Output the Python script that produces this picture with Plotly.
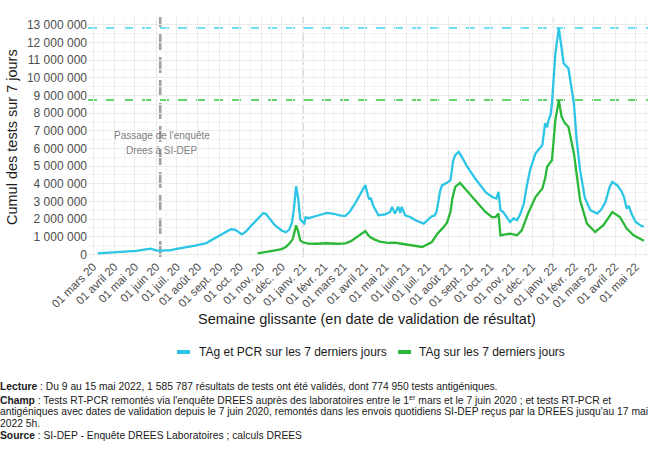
import plotly.graph_objects as go
import pandas as pd

# ---------------- data ----------------
tot_dates = ["2020-03-08","2020-03-22","2020-04-05","2020-04-19","2020-05-03","2020-05-17","2020-05-24","2020-06-01",
 "2020-06-07","2020-06-14","2020-06-21","2020-07-03","2020-07-15","2020-07-28","2020-08-13","2020-08-22","2020-08-30",
 "2020-09-10","2020-09-18","2020-09-24","2020-10-04","2020-10-10","2020-10-17","2020-10-27","2020-11-04","2020-11-08",
 "2020-11-13","2020-11-21","2020-12-01","2020-12-07","2020-12-12","2020-12-16","2020-12-19","2020-12-22","2020-12-25",
 "2020-12-28","2020-12-31","2021-01-03","2021-01-05","2021-01-09","2021-01-19","2021-01-26","2021-02-05","2021-02-15",
 "2021-02-25","2021-03-04","2021-03-10","2021-03-18","2021-03-26","2021-04-02","2021-04-06","2021-04-08","2021-04-10",
 "2021-04-13","2021-04-21","2021-05-01","2021-05-08","2021-05-11","2021-05-15","2021-05-18","2021-05-20","2021-05-23",
 "2021-05-25","2021-05-30","2021-06-07","2021-06-14","2021-06-26","2021-07-08","2021-07-12","2021-07-15","2021-07-20",
 "2021-07-23","2021-07-30","2021-08-04","2021-08-08","2021-08-11","2021-08-16","2021-08-21","2021-08-28","2021-09-09",
 "2021-09-17","2021-09-25","2021-10-04","2021-10-10","2021-10-13","2021-10-16","2021-10-20","2021-10-25","2021-10-30",
 "2021-11-04","2021-11-09","2021-11-14","2021-11-19","2021-11-23","2021-11-28","2021-12-06","2021-12-16","2021-12-20",
 "2021-12-23","2021-12-25","2021-12-28","2021-12-30","2022-01-02","2022-01-04","2022-01-09","2022-01-13","2022-01-16",
 "2022-01-23","2022-01-31","2022-02-04","2022-02-09","2022-02-16","2022-02-24","2022-03-06","2022-03-12","2022-03-18",
 "2022-03-24","2022-03-28","2022-04-04","2022-04-10","2022-04-14","2022-04-18","2022-04-21","2022-04-25","2022-05-01",
 "2022-05-06","2022-05-10","2022-05-13"]
tot_vals = [0.05,0.08,0.12,0.16,0.20,0.28,0.32,0.22,
 0.20,0.22,0.23,0.32,0.40,0.50,0.64,0.85,1.02,
 1.25,1.42,1.40,1.13,1.30,1.60,2.00,2.33,2.30,
 2.05,1.65,1.35,1.25,1.40,1.80,2.60,3.86,3.20,
 2.00,1.85,1.75,2.10,2.05,2.16,2.25,2.35,2.30,
 2.20,2.18,2.40,2.88,3.40,3.92,3.30,3.10,3.20,
 2.80,2.21,2.27,2.40,2.69,2.31,2.55,2.69,2.35,
 2.69,2.21,2.10,1.93,1.74,2.16,2.20,2.45,3.60,
 3.92,4.05,4.20,5.30,5.62,5.81,5.50,5.00,4.30,
 3.92,3.50,3.25,3.16,3.54,2.50,2.40,2.10,1.83,
 2.03,1.93,2.30,2.88,3.80,4.77,5.72,6.19,7.42,
 7.20,7.61,7.90,8.55,10.0,11.39,12.83,11.50,10.83,
 10.54,8.55,6.50,4.77,3.20,2.50,2.31,2.55,2.97,
 3.80,4.10,3.92,3.60,3.25,2.59,2.75,2.30,1.83,
 1.70,1.60,1.59]

tag_dates = ["2020-10-27","2020-11-05","2020-11-15","2020-11-22","2020-12-01","2020-12-07","2020-12-12","2020-12-17",
 "2020-12-20","2020-12-22","2020-12-25","2020-12-28","2020-12-31","2021-01-09","2021-01-20","2021-02-05","2021-02-20",
 "2021-03-04","2021-03-12","2021-03-20","2021-04-02","2021-04-06","2021-04-09","2021-04-15","2021-04-23","2021-05-05",
 "2021-05-15","2021-05-25","2021-06-10","2021-06-24","2021-07-08","2021-07-16","2021-07-24","2021-07-30","2021-08-04",
 "2021-08-07","2021-08-11","2021-08-18","2021-08-28","2021-09-09","2021-09-24","2021-10-04","2021-10-09","2021-10-13",
 "2021-10-16","2021-10-25","2021-10-30","2021-11-09","2021-11-16","2021-11-25","2021-12-06","2021-12-16","2021-12-20",
 "2021-12-23","2021-12-30","2022-01-04","2022-01-09","2022-01-13","2022-01-18","2022-01-23","2022-01-31","2022-02-09",
 "2022-02-19","2022-03-03","2022-03-15","2022-03-28","2022-04-08","2022-04-18","2022-04-28","2022-05-13"]
tag_vals = [0.05,0.10,0.18,0.23,0.30,0.42,0.60,0.85,
 1.30,1.65,1.30,0.80,0.70,0.61,0.60,0.63,0.60,
 0.62,0.75,0.95,1.32,1.10,0.98,0.85,0.72,0.65,
 0.66,0.60,0.50,0.42,0.70,1.17,1.50,1.80,2.40,
 3.20,3.82,4.05,3.60,3.07,2.40,2.10,2.12,2.31,
 1.08,1.15,1.17,1.08,1.36,2.30,3.25,3.73,4.30,
 4.96,5.34,7.61,8.74,7.80,7.42,7.23,5.72,3.07,
 1.74,1.27,1.65,2.40,2.12,1.46,1.08,0.775]

month_ticks = pd.date_range("2020-03-01", "2022-05-01", freq="MS")
month_labels = ["01 mars 20","01 avril 20","01 mai 20","01 juin 20","01 juil. 20","01 août 20","01 sept. 20",
 "01 oct. 20","01 nov. 20","01 déc. 20","01 janv. 21","01 févr. 21","01 mars 21","01 avril 21","01 mai 21",
 "01 juin 21","01 juil. 21","01 août 21","01 sept. 21","01 oct. 21","01 nov. 21","01 déc. 21","01 janv. 22",
 "01 févr. 22","01 mars 22","01 avril 22","01 mai 22"]
y_ticks = [i * 1_000_000 for i in range(14)]
y_labels = ["0","1 000 000","2 000 000","3 000 000","4 000 000","5 000 000","6 000 000","7 000 000",
 "8 000 000","9 000 000","10 000 000","11 000 000","12 000 000","13 000 000"]

name_tot = "TAg et PCR sur les 7 derniers jours"
name_tag = "TAg sur les 7 derniers jours"
switch_date = "2020-06-07"
year_marks = ["2021-01-01", "2022-01-01"]

# ---------------- figure ----------------
BLUE = "#2CC5E5"
BLUE_D = "#40D6F3"
GREEN = "#2BB838"
GREEN_D = "#33C73A"

tot_y = [v * 1e6 for v in tot_vals]
tag_y = [v * 1e6 for v in tag_vals]

fig = go.Figure()
fig.add_trace(go.Scatter(x=tot_dates, y=tot_y, mode="lines", name=name_tot,
                         line=dict(color=BLUE, width=2.3), showlegend=False))
fig.add_trace(go.Scatter(x=tag_dates, y=tag_y, mode="lines", name=name_tag,
                         line=dict(color=GREEN, width=2.3), showlegend=False))

# geometry
L, R, T, B = 88, 4, 17, 199
W = 652 - L - R
H = 456 - T - B
def px(xp):
    return (xp - L) / W
def py(yp):
    return (456 - B - yp) / H

# reference lines
fig.add_shape(type="line", xref="paper", yref="y", x0=0, x1=1, y0=max(tot_y), y1=max(tot_y),
              line=dict(color=BLUE_D, width=1.5, dash="dash"), layer="below")
fig.add_shape(type="line", xref="paper", yref="y", x0=0, x1=1, y0=max(tag_y), y1=max(tag_y),
              line=dict(color=GREEN_D, width=1.5, dash="dash"), layer="below")
fig.add_shape(type="line", xref="x", yref="paper", x0=switch_date, x1=switch_date, y0=0, y1=1,
              line=dict(color="rgba(130,130,130,0.75)", width=2.6, dash="16px,7px"), layer="below")
for d in year_marks:
    fig.add_shape(type="line", xref="x", yref="paper", x0=d, x1=d, y0=0, y1=1,
                  line=dict(color="#aaaaaa", width=1, dash="dashdot"), layer="below")

# minor x gridlines at midpoints
mt = list(month_ticks)
minor_x = [mt[0] - (mt[1] - mt[0]) / 2] + [mt[i] + (mt[i + 1] - mt[i]) / 2 for i in range(len(mt) - 1)] \
          + [mt[-1] + pd.Timedelta(days=15)]

fig.update_layout(
    width=652, height=456,
    margin=dict(l=L, r=R, t=T, b=B, autoexpand=False),
    paper_bgcolor="white", plot_bgcolor="white",
    font=dict(family="Liberation Sans, Arial, sans-serif", color="#4d4d4d"),
    xaxis=dict(type="date", range=["2020-02-22 17:00", "2022-05-19"],
               tickmode="array", tickvals=month_ticks, ticktext=month_labels, tickangle=-45,
               tickfont=dict(size=11.5, color="#4d4d4d"), showgrid=True, gridcolor="#ebebeb", gridwidth=1,
               zeroline=False, showline=False, ticks="", ticklen=0, automargin=False,
               minor=dict(tickvals=minor_x, showgrid=True, gridcolor="#f4f4f4", gridwidth=1)),
    yaxis=dict(range=[-0.15e6, 13.45e6], tickmode="array", tickvals=y_ticks, ticktext=y_labels,
               tickfont=dict(size=12, color="#4d4d4d"), showgrid=True, gridcolor="#ebebeb", gridwidth=1,
               zeroline=False, showline=False, ticks="", ticklen=0, automargin=False,
               minor=dict(tickvals=[v + 500000 for v in y_ticks], showgrid=True, gridcolor="#f4f4f4", gridwidth=1)),
)

ann = []
# axis titles
ann.append(dict(text="Cumul des tests sur 7 jours", xref="paper", yref="paper", x=px(12), y=0.5,
                textangle=-90, showarrow=False, font=dict(size=14.5, color="#1a1a1a"),
                xanchor="center", yanchor="middle"))
ann.append(dict(text="Semaine glissante (en date de validation de résultat)", xref="paper", yref="paper",
                x=px(367), y=py(319), showarrow=False, font=dict(size=14.5, color="#1a1a1a"),
                xanchor="center", yanchor="middle"))
# annotation text
ann.append(dict(text="Passage de l'enquête", xref="x", yref="paper", x="2020-06-09", y=py(135),
                showarrow=False, font=dict(size=10, color="#808080"), xanchor="center", yanchor="middle"))
ann.append(dict(text="Drees à SI-DEP", xref="x", yref="paper", x="2020-06-09", y=py(150),
                showarrow=False, font=dict(size=10, color="#808080"), xanchor="center", yanchor="middle"))
# legend (manual)
ann.append(dict(text=name_tot, xref="paper", yref="paper", x=px(197), y=py(352), showarrow=False,
                font=dict(size=12, color="#1a1a1a"), xanchor="left", yanchor="middle"))
ann.append(dict(text=name_tag, xref="paper", yref="paper", x=px(417), y=py(352), showarrow=False,
                font=dict(size=12, color="#1a1a1a"), xanchor="left", yanchor="middle"))
fig.add_shape(type="line", xref="paper", yref="paper", x0=px(177), x1=px(190), y0=py(352), y1=py(352),
              line=dict(color=BLUE, width=4))
fig.add_shape(type="line", xref="paper", yref="paper", x0=px(398), x1=px(411), y0=py(352), y1=py(352),
              line=dict(color=GREEN, width=4))
# caption
cap_font = dict(size=10.3, color="#1a1a1a", family="Liberation Sans, Arial, sans-serif")
caption = [
    (386, "<b>Lecture</b> : Du 9 au 15 mai 2022, 1 585 787 résultats de tests ont été validés, dont 774 950 tests antigéniques."),
    (399.5, "<b>Champ</b> : Tests RT-PCR remontés via l'enquête DREES auprès des laboratoires entre le 1<sup>er</sup> mars et le 7 juin 2020 ; et tests RT-PCR et"),
    (411.5, "antigéniques avec dates de validation depuis le 7 juin 2020, remontés dans les envois quotidiens SI-DEP reçus par la DREES jusqu'au 17 mai"),
    (423.5, "2022 5h."),
    (435.5, "<b>Source</b> : SI-DEP - Enquête DREES Laboratoires ; calculs DREES"),
]
for yp, t in caption:
    ann.append(dict(text=t, xref="paper", yref="paper", x=px(-2), y=py(yp), showarrow=False,
                    font=cap_font, xanchor="left", yanchor="middle", align="left"))
fig.update_layout(annotations=ann)

fig.write_html("out.html", config={"displayModeBar": False},
               post_script="document.body.style.margin='0';document.body.style.padding='0';")
